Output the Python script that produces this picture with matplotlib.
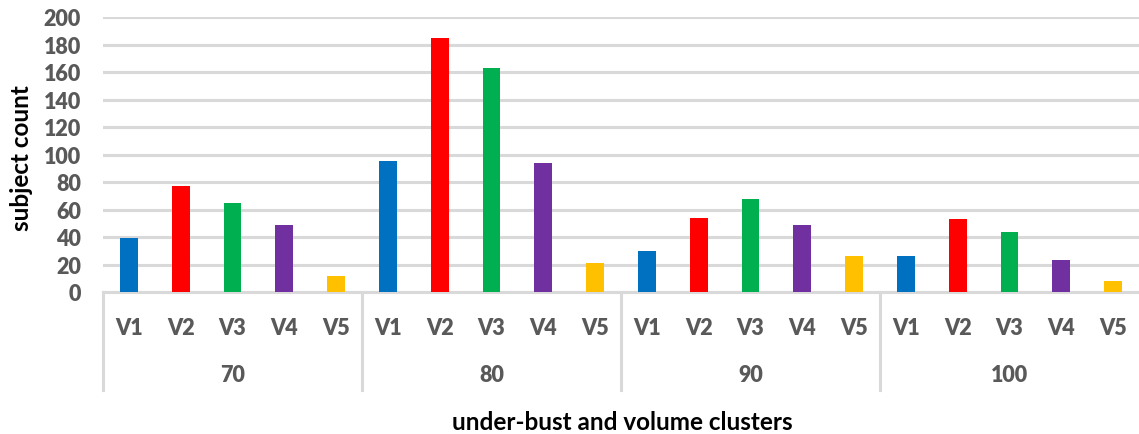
from matplotlib import pyplot as plt
from matplotlib import transforms

# subject counts per under-bust size (70..100) and volume cluster (V1..V5)
under_bust = ["70", "80", "90", "100"]
clusters = ["V1", "V2", "V3", "V4", "V5"]
counts_70 = [39, 77, 65, 49, 12]
counts_80 = [95, 185, 163, 94, 21]
counts_90 = [30, 54, 68, 49, 26]
counts_100 = [26, 53, 44, 23, 8]
cluster_colors = ["#0070C0", "#FF0000", "#00B050", "#7030A0", "#FFC000"]

grey = "#595959"
line_grey = "#D9D9D9"
font = ["Lato", "DejaVu Sans"]

fig = plt.figure(figsize=(11.39, 4.35), dpi=100)
ax = fig.add_axes([103/1139, 1-293/435, 1-103/1139, 275/435])

all_counts = [counts_70, counts_80, counts_90, counts_100]
pos = 0
for g, counts in enumerate(all_counts):
    for i, val in enumerate(counts):
        ax.bar(pos, val, width=0.34, color=cluster_colors[i], zorder=3)
        pos += 1

ax.set_xlim(-0.5, pos - 0.5)
ax.set_ylim(0, 200)
ax.set_yticks(range(0, 201, 20))
ax.yaxis.grid(True, color=line_grey, linewidth=2.2, zorder=0)
ax.set_axisbelow(True)
ax.tick_params(axis="y", length=0, pad=16, labelsize=15.5, labelcolor=grey)
for lab in ax.get_yticklabels():
    lab.set_fontfamily(font)
    lab.set_fontweight("heavy")
ax.set_xticks([])
for side in ["top", "right", "left"]:
    ax.spines[side].set_visible(False)
ax.spines["bottom"].set_color(line_grey)
ax.spines["bottom"].set_linewidth(2.2)

# two-level category labels under the axis
trans = transforms.blended_transform_factory(ax.transData, ax.transAxes)
pos = 0
for g, name in enumerate(under_bust):
    start = pos
    for c in clusters:
        ax.text(pos, -0.13, c, transform=trans, ha="center", va="center",
                fontsize=15.5, color=grey, fontweight="heavy", family=font)
        pos += 1
    ax.text((start + pos - 1) / 2, -0.30, name, transform=trans, ha="center",
            va="center", fontsize=15.5, color=grey, fontweight="heavy", family=font)
    ax.plot([start - 0.5, start - 0.5], [0, -0.355], transform=trans,
            color=line_grey, linewidth=2.2, clip_on=False)

fig.text(22/1139, 1-158/435, "subject count", rotation=90, ha="center", va="center",
         fontsize=17.5, fontweight="bold", color="black", family=font)
fig.text(622/1139, 1-423/435, "under-bust and volume clusters", ha="center", va="center",
         fontsize=17.5, fontweight="bold", color="black", family=font)

plt.savefig("out.png", dpi=100)
